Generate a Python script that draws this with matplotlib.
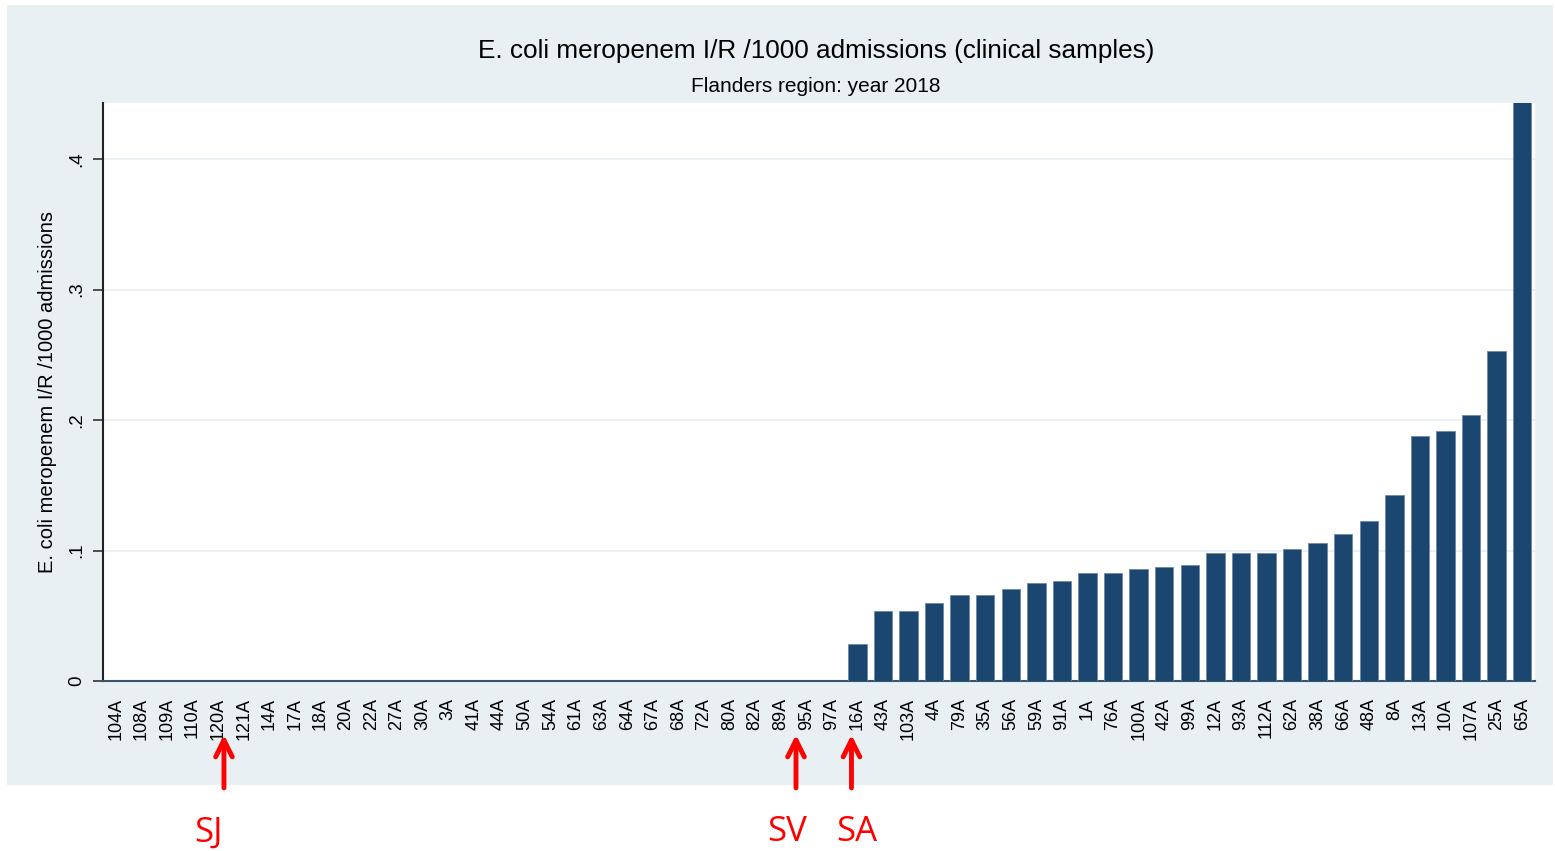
import matplotlib.pyplot as plt
from matplotlib.patches import Rectangle

plt.rcParams['font.family'] = ['Liberation Sans', 'DejaVu Sans']

# hospitals, sorted by rate
hospitals = ['104A', '108A', '109A', '110A', '120A', '121A', '14A', '17A', '18A', '20A',
             '22A', '27A', '30A', '3A', '41A', '44A', '50A', '54A', '61A', '63A',
             '64A', '67A', '68A', '72A', '80A', '82A', '89A', '95A', '97A',
             '16A', '43A', '103A', '4A', '79A', '35A', '56A', '59A', '91A', '1A',
             '76A', '100A', '42A', '99A', '12A', '93A', '112A', '62A', '38A', '66A',
             '48A', '8A', '13A', '10A', '107A', '25A', '65A']
rates = [0.0] * 29 + [0.028, 0.054, 0.054, 0.060, 0.066, 0.066, 0.0705, 0.075, 0.0766, 0.083,
                      0.083, 0.086, 0.087, 0.089, 0.098, 0.098, 0.098, 0.101, 0.106, 0.113,
                      0.123, 0.1425, 0.188, 0.1915, 0.204, 0.253, 0.444]
yticks = [0, 0.1, 0.2, 0.3, 0.4]
ytick_labels = ['0', '.1', '.2', '.3', '.4']

# marked hospitals: label, arrow x, text x (in category units)
marks = [('SJ', 4.23, 3.64), ('SV', 26.6, 26.26), ('SA', 28.77, 28.96)]

bar_color = '#1a4670'
bg = '#e8f0f3'

fig = plt.figure(figsize=(15.55, 8.51), dpi=100, facecolor='white')
fig.patches.append(Rectangle((7 / 1555, 1 - 785 / 851), 1546 / 1555, 780 / 851,
                             transform=fig.transFigure, facecolor=bg, edgecolor='none', zorder=-10))

ax = fig.add_axes([103 / 1555, 1 - 681 / 851, 1432 / 1555, 578 / 851])
ax.set_facecolor('white')

x = range(len(hospitals))
ax.bar(x, rates, width=0.72, color=bar_color, edgecolor='#6f8aa6', linewidth=0.6, zorder=3)

ax.set_xlim(-0.5, len(hospitals) - 0.5)
ax.set_ylim(0, 0.443)
ax.set_yticks(yticks)
ax.set_yticklabels(ytick_labels, rotation=90, va='center', fontsize=13.5)
ax.set_xticks(list(x))
ax.set_xticklabels(hospitals, rotation=90, fontsize=13)
ax.tick_params(axis='x', length=0, pad=12)
ax.tick_params(axis='y', length=7, width=1.2, color='#333333', pad=6)
ax.grid(axis='y', color='#e6eef2', linewidth=1.2, zorder=0)

for side in ['top', 'right']:
    ax.spines[side].set_visible(False)
ax.spines['left'].set_color('#222222')
ax.spines['left'].set_linewidth(1.5)
ax.spines['bottom'].set_color('#3a5470')
ax.spines['bottom'].set_linewidth(1.5)

ax.set_ylabel('E. coli meropenem I/R /1000 admissions', fontsize=14.5, labelpad=8)

fig.text(816 / 1555, 1 - 51 / 851, 'E. coli meropenem I/R /1000 admissions (clinical samples)',
         ha='center', va='center', fontsize=18.8)
fig.text(816 / 1555, 1 - 87 / 851, 'Flanders region: year 2018',
         ha='center', va='center', fontsize=15)

trans = ax.get_xaxis_transform()
for name, xa, xt in marks:
    ax.annotate('', xy=(xa, -0.093), xytext=(xa, -0.185), xycoords=trans, textcoords=trans,
                arrowprops=dict(arrowstyle='->', color='red', lw=3.5, mutation_scale=30,
                                shrinkA=0, shrinkB=0),
                annotation_clip=False)
    ax.text(xt, -0.262, name, transform=trans, ha='center', va='center',
            color='red', fontsize=25, clip_on=False, family=['Open Sans', 'DejaVu Sans'])

fig.savefig('out.png', dpi=100, facecolor='white')
